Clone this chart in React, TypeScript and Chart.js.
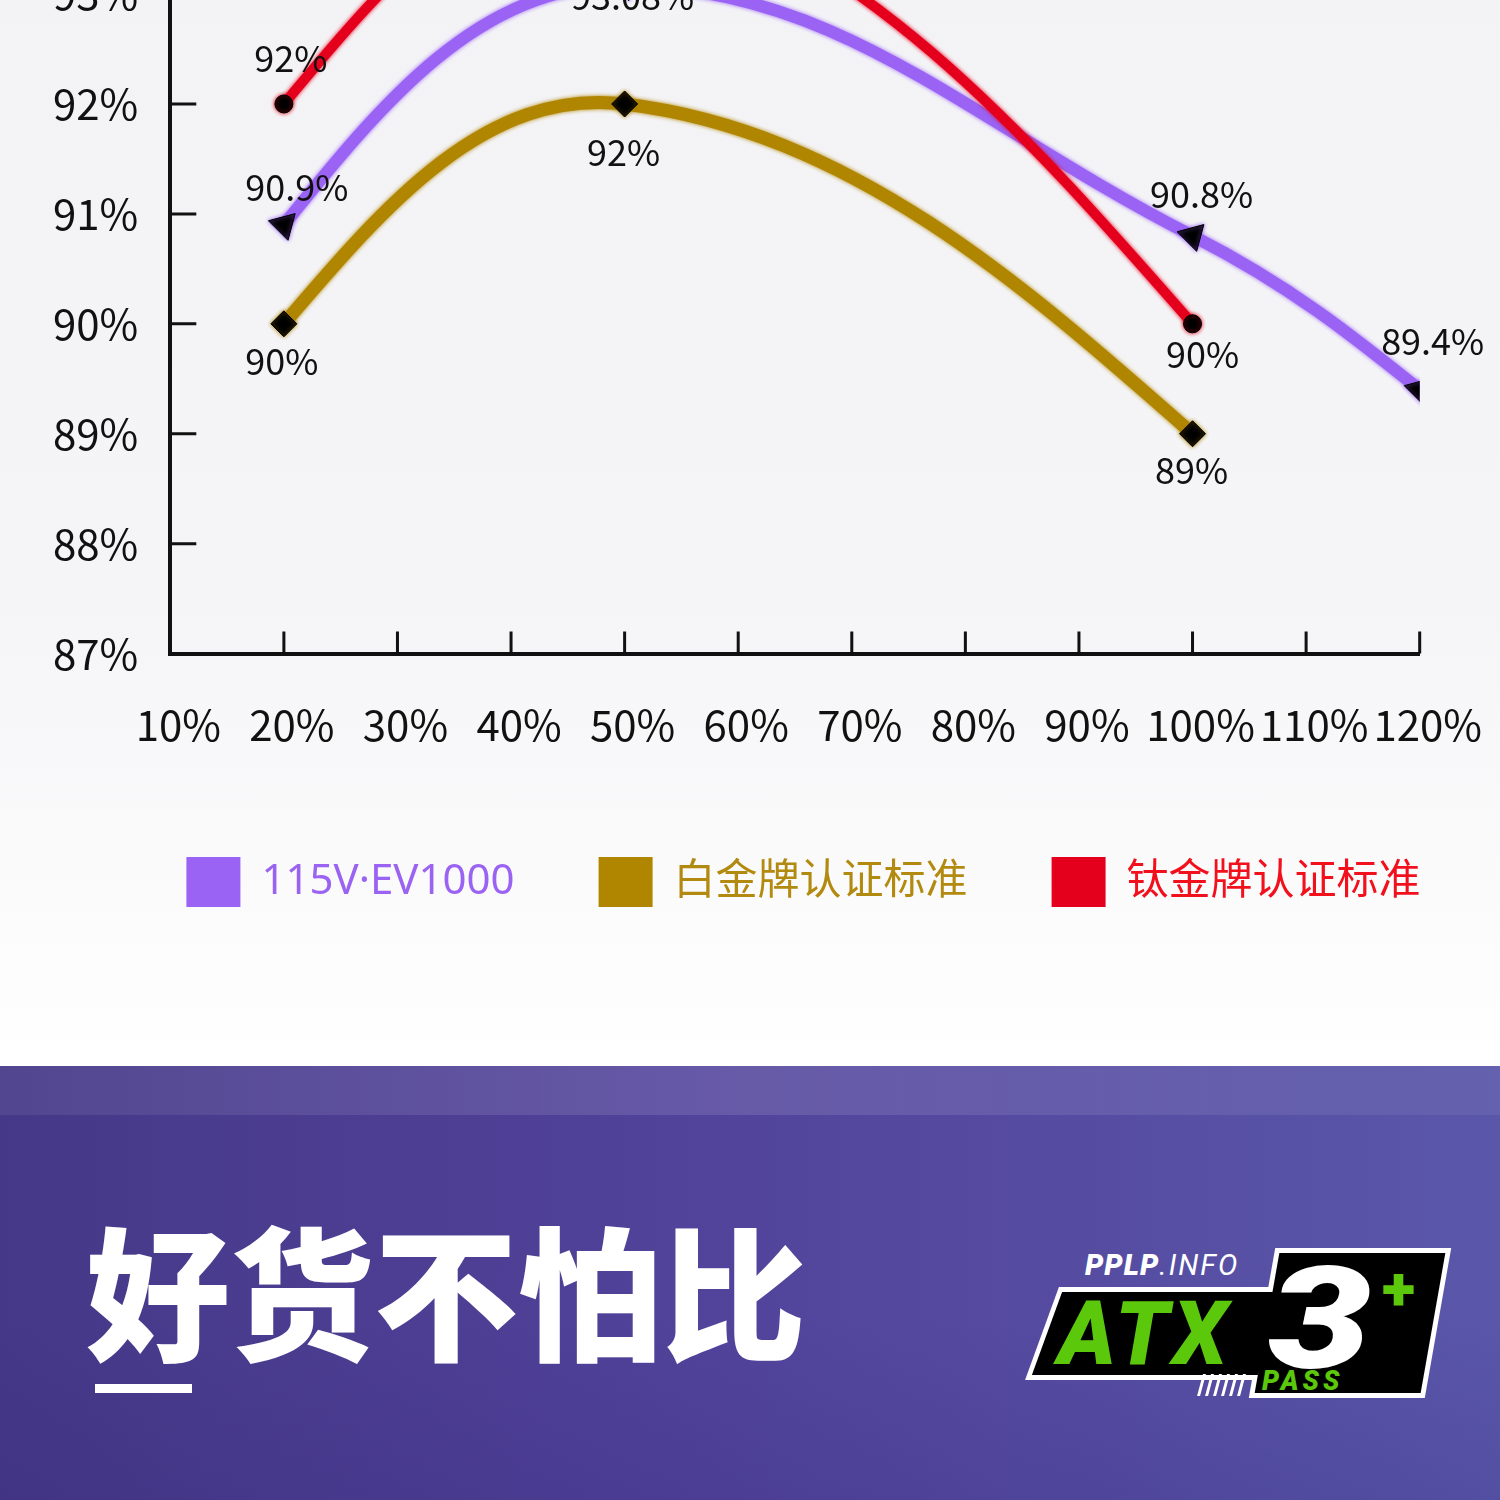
import React, { useEffect, useRef } from "react";
import { Chart, registerables } from "chart.js";

Chart.register(...registerables);

// ---- data ----
const seriesNames = ["115V·EV1000", "白金牌认证标准", "钛金牌认证标准"];
const ev1000Loads = [20, 50, 100, 120];
const ev1000Values = [90.9, 93.08, 90.8, 89.4];
const standardLoads = [20, 50, 100];
const platinumValues = [90, 92, 89];
const titaniumValues = [92, 94, 90];
const xMin = 10;
const xMax = 120;
const xStep = 10;
const yMin = 87;
const yMax = 95;
const yStep = 1;

// ---- style ----
const lineColors = ["#9a63f4", "#b08500", "#e4001c"];
const legendTextColors = ["#9b63f2", "#b38a10", "#f2101c"];
const lineWidths = [12, 13, 10];
const pointStyles = ["triangle", "rectRot", "circle"];
const pointRadii = [16, 13, 9];
const pointRotations = [165, 0, 0];
const drawOrder = [1, 2, 0];
// label offsets [dx, dy] per point, per series
const ev1000LabelOffsets = [[13, -38], [8, 11], [9, -42], [13, -48]];
const platinumLabelOffsets = [[-2, 37], [-1, 48], [-1, 37]];
const titaniumLabelOffsets = [[7, -46], [0, 40], [10, 30]];
const labelOffsets = [ev1000LabelOffsets, platinumLabelOffsets, titaniumLabelOffsets];
const legendShift = 66;

const FONT = "'Noto Sans CJK SC', 'Noto Sans', sans-serif";
const LEGEND_FONT = "'Noto Sans', 'Noto Sans CJK SC', sans-serif";

// natural (zero-curvature) end conditions for the smoothed lines + soft edges
const naturalEnds = {
  id: "naturalEnds",
  beforeDatasetDraw(chart: any, args: any) {
    const meta = args.meta;
    const line = meta.dataset;
    const ctx = chart.ctx;
    ctx.save();
    ctx.shadowColor = lineColors[args.index];
    ctx.shadowBlur = 4;
    if (!line || !line.updateControlPoints) return;
    line.updateControlPoints(chart.chartArea, meta.iScale.axis);
    const pts = meta.data;
    const n = pts.length;
    if (n < 3) return;
    const first = pts[0];
    const second = pts[1];
    first.cp2x = (first.x + second.cp1x) / 2;
    first.cp2y = (first.y + second.cp1y) / 2;
    const last = pts[n - 1];
    const prev = pts[n - 2];
    last.cp1x = (last.x + prev.cp2x) / 2;
    last.cp1y = (last.y + prev.cp2y) / 2;
    line._path = undefined;
  },
  afterDatasetDraw(chart: any) {
    chart.ctx.restore();
  },
  afterLayout(chart: any) {
    const lg = chart.legend;
    if (lg) {
      lg.left += legendShift;
      lg.right += legendShift;
    }
  },
};

const innerTicks = {
  id: "innerTicks",
  beforeDatasetsDraw(chart: any) {
    const { ctx } = chart;
    const x = chart.scales.x;
    const y = chart.scales.y;
    ctx.save();
    ctx.strokeStyle = "#111";
    ctx.lineWidth = 3;
    ctx.beginPath();
    x.ticks.forEach((t: any) => {
      if (t.value === x.min) return;
      const px = x.getPixelForValue(t.value);
      ctx.moveTo(px, x.top);
      ctx.lineTo(px, x.top - 22);
    });
    y.ticks.forEach((t: any) => {
      if (t.value === y.min) return;
      const py = y.getPixelForValue(t.value);
      ctx.moveTo(y.right, py);
      ctx.lineTo(y.right + 26, py);
    });
    ctx.stroke();
    ctx.restore();
  },
};

const valueLabels = {
  id: "valueLabels",
  afterDatasetsDraw(chart: any) {
    const { ctx } = chart;
    ctx.save();
    ctx.font = `36px ${FONT}`;
    ctx.fillStyle = "#111";
    ctx.textAlign = "center";
    ctx.textBaseline = "middle";
    chart.data.datasets.forEach((ds: any, i: number) => {
      const meta = chart.getDatasetMeta(i);
      meta.data.forEach((pt: any, j: number) => {
        const v = ds.data[j].y;
        const [dx, dy] = labelOffsets[i][j];
        ctx.fillText(`${v}%`, pt.x + dx, pt.y + dy);
      });
    });
    ctx.restore();
  },
};

const toPoints = (xs: number[], ys: number[]) => xs.map((x, i) => ({ x, y: ys[i] }));

export default function App() {
  const ref = useRef<HTMLCanvasElement>(null);

  useEffect(() => {
    document.body.style.margin = "0";
    const seriesData = [
      toPoints(ev1000Loads, ev1000Values),
      toPoints(standardLoads, platinumValues),
      toPoints(standardLoads, titaniumValues),
    ];
    const chart = new Chart(ref.current as HTMLCanvasElement, {
      type: "line",
      data: {
        datasets: seriesData.map((d, i) => ({
          label: seriesNames[i],
          data: d,
          borderColor: lineColors[i],
          backgroundColor: lineColors[i],
          borderWidth: lineWidths[i],
          tension: 0.4,
          fill: false,
          pointStyle: pointStyles[i] as any,
          pointRadius: pointRadii[i],
          pointRotation: pointRotations[i],
          pointBackgroundColor: "#000",
          pointBorderColor: "#000",
          pointBorderWidth: 1,
          order: drawOrder[i],
        })),
      },
      options: {
        animation: false,
        responsive: false,
        devicePixelRatio: 1,
        layout: { padding: { top: 36, left: 21, right: 66, bottom: 140 } },
        scales: {
          x: {
            type: "linear",
            min: xMin,
            max: xMax,
            grid: { display: true, drawOnChartArea: false, drawTicks: false },
            border: { display: true, color: "#111", width: 4 },
            ticks: {
              stepSize: xStep,
              autoSkip: false,
              maxRotation: 0,
              minRotation: 0,
              padding: 46,
              labelOffset: 8,
              color: "#111",
              font: { family: FONT, size: 42 },
              callback: (v: any) => `${v}%`,
            },
            afterFit: (scale: any) => {
              scale.height -= 23;
            },
          },
          y: {
            type: "linear",
            min: yMin,
            max: yMax,
            grid: { display: true, drawOnChartArea: false, drawTicks: false },
            border: { display: true, color: "#111", width: 4 },
            ticks: {
              stepSize: yStep,
              padding: 32,
              color: "#111",
              font: { family: FONT, size: 42 },
              callback: (v: any) => `${v}%`,
            },
          },
        },
        plugins: {
          tooltip: { enabled: false },
          legend: {
            display: true,
            position: "bottom",
            labels: {
              boxWidth: 54,
              boxHeight: 50,
              padding: 84,
              font: { family: LEGEND_FONT, size: 42 },
              generateLabels: (c: any) =>
                c.data.datasets.map((ds: any, i: number) => ({
                  text: ds.label,
                  fillStyle: lineColors[i],
                  strokeStyle: lineColors[i],
                  lineWidth: 0,
                  fontColor: legendTextColors[i],
                  hidden: false,
                  datasetIndex: i,
                })),
            },
          },
        },
      },
      plugins: [naturalEnds, innerTicks, valueLabels],
    });
    return () => chart.destroy();
  }, []);

  return (
    <div
      style={{
        position: "relative",
        width: 1500,
        height: 1500,
        overflow: "hidden",
        background:
          "linear-gradient(180deg, #f3f3f6 0px, #f5f5f7 600px, #fbfbfc 900px, #ffffff 1066px)",
        fontFamily: FONT,
      }}
    >
      <div style={{ position: "absolute", left: 0, top: -283, width: 1520, height: 1340 }}>
        <canvas ref={ref} width={1520} height={1340} style={{ width: 1520, height: 1340 }} />
      </div>

      <div
        style={{
          position: "absolute",
          left: 0,
          top: 1066,
          width: 1500,
          height: 434,
          background: "linear-gradient(90deg, #463888 0%, #51429a 45%, #5a57aa 100%)",
          overflow: "hidden",
        }}
      >
        <div
          style={{
            position: "absolute",
            left: 0,
            top: 0,
            width: 1500,
            height: 49,
            background: "linear-gradient(90deg, rgba(255,255,255,0.07), rgba(255,255,255,0.12) 50%, rgba(255,255,255,0.06))",
          }}
        />
        <div
          style={{
            position: "absolute",
            left: 0,
            top: 250,
            width: 1500,
            height: 184,
            background: "linear-gradient(180deg, rgba(40,30,110,0), rgba(40,30,110,0.15))",
          }}
        />
        <div
          style={{
            position: "absolute",
            left: 86,
            top: 149,
            fontSize: 144,
            lineHeight: 1,
            fontWeight: 900,
            color: "#fff",
            whiteSpace: "nowrap",
            fontFamily: "'Noto Sans CJK SC', sans-serif",
          }}
        >
          好货不怕比
        </div>
        <div style={{ position: "absolute", left: 95, top: 318, width: 97, height: 9, background: "#fff" }} />

        {/* ATX 3+ logo */}
        <div style={{ position: "absolute", left: 1030, top: 180, width: 420, height: 160 }}>
          {/* white outlines */}
          <div style={{ position: "absolute", left: 12, top: 41, width: 236, height: 93, background: "#fff", transform: "skewX(-20deg)" }} />
          <div style={{ position: "absolute", left: 232, top: 2, width: 176, height: 150, background: "#fff", transform: "skewX(-10deg)" }} />
          {/* black fills */}
          <div style={{ position: "absolute", left: 17, top: 46, width: 226, height: 83, background: "#000", transform: "skewX(-20deg)" }} />
          <div style={{ position: "absolute", left: 237, top: 7, width: 166, height: 140, background: "#000", transform: "skewX(-10deg)" }} />
          <div
            style={{
              position: "absolute",
              left: 55,
              top: 2,
              fontFamily: "Roboto, sans-serif",
              fontStyle: "italic",
              fontSize: 29,
              color: "#fff",
              whiteSpace: "nowrap",
              letterSpacing: 1,
            }}
          >
            <span style={{ fontWeight: 900 }}>PPLP</span>
            <span style={{ fontWeight: 400, letterSpacing: 2 }}>.INFO</span>
          </div>
          <div
            style={{
              position: "absolute",
              left: 28,
              top: 38,
              fontFamily: "Roboto, sans-serif",
              fontStyle: "italic",
              fontWeight: 900,
              fontSize: 88,
              lineHeight: "100px",
              color: "#5cc80c",
              letterSpacing: 4,
              whiteSpace: "nowrap",
            }}
          >
            ATX
          </div>
          <div
            style={{
              position: "absolute",
              left: 238,
              top: -6,
              fontFamily: "Roboto, sans-serif",
              fontWeight: 900,
              fontStyle: "italic",
              fontSize: 142,
              lineHeight: "160px",
              color: "#fff",
              transform: "scaleX(1.3)",
              transformOrigin: "left center",
            }}
          >
            3
          </div>
          <div
            style={{
              position: "absolute",
              left: 352,
              top: 8,
              fontFamily: "Roboto, sans-serif",
              fontWeight: 900,
              fontSize: 62,
              lineHeight: "70px",
              color: "#5cc80c",
            }}
          >
            +
          </div>
          <div
            style={{
              position: "absolute",
              left: 232,
              top: 120,
              fontFamily: "Roboto, sans-serif",
              fontWeight: 900,
              fontStyle: "italic",
              fontSize: 27,
              lineHeight: "30px",
              color: "#5cc80c",
              letterSpacing: 4,
            }}
          >
            PASS
          </div>
          {[0, 1, 2, 3, 4, 5].map((k) => (
            <div
              key={k}
              style={{
                position: "absolute",
                left: 170 + k * 8,
                top: 128,
                width: 3,
                height: 22,
                background: "#fff",
                transform: "skewX(-15deg)",
              }}
            />
          ))}
        </div>
      </div>
    </div>
  );
}
